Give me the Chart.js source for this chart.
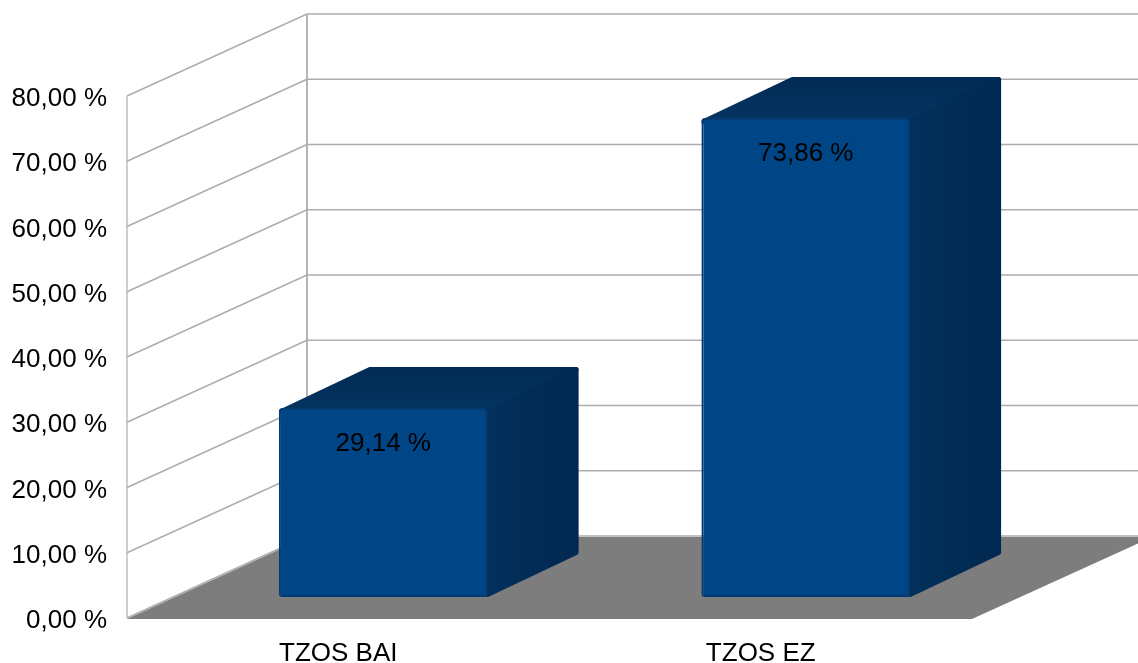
<!DOCTYPE html>
<html>
<head>
<meta charset="utf-8">
<title>TZOS</title>
<script src="https://cdn.jsdelivr.net/npm/chart.js@4"></script>
<style>
  html, body { margin: 0; padding: 0; background: #fff; overflow: hidden; }
  canvas { display: block; }
</style>
</head>
<body>
<canvas id="chartCanvas" width="1138" height="663"></canvas>
<script>
var categories = ["TZOS BAI", "TZOS EZ"];
var shareValues = [29.14, 73.86];
var valueLabels = ["29,14 %", "73,86 %"];
var yTickValues = [0, 10, 20, 30, 40, 50, 60, 70, 80];
var yTickLabels = ["0,00 %", "10,00 %", "20,00 %", "30,00 %", "40,00 %", "50,00 %", "60,00 %", "70,00 %", "80,00 %"];

var FONT = "'Liberation Sans', Arial, sans-serif";
var GRID = "#adadad";
// depth of the fake 3d box, in pixels
var WALL_DX = 180, WALL_DY = 82;
var BAR_SHIFT_X = 45, BAR_SHIFT_Y = 21;
var BAR_DX = 91, BAR_DY = 42;
var CORNER = 2.5;

function line(ctx, x1, y1, x2, y2, w) {
  ctx.beginPath();
  ctx.moveTo(x1, y1);
  ctx.lineTo(x2, y2);
  ctx.lineWidth = w;
  ctx.strokeStyle = GRID;
  ctx.stroke();
}

function face(ctx, pts, fill) {
  ctx.beginPath();
  ctx.moveTo(pts[0][0], pts[0][1]);
  for (var i = 1; i < pts.length; i++) ctx.lineTo(pts[i][0], pts[i][1]);
  ctx.closePath();
  ctx.lineJoin = "round";
  ctx.lineWidth = CORNER * 2;
  ctx.strokeStyle = fill;
  ctx.fillStyle = fill;
  ctx.stroke();
  ctx.fill();
}

var box3d = {
  id: "box3d",
  beforeDatasetsDraw: function (chart) {
    var ctx = chart.ctx, a = chart.chartArea, y = chart.scales.y;
    ctx.save();
    // walls and gridlines
    yTickValues.forEach(function (v) {
      var py = y.getPixelForValue(v);
      line(ctx, a.left, py, a.left + WALL_DX, py - WALL_DY, 1.5);
      line(ctx, a.left + WALL_DX, py - WALL_DY, a.right + WALL_DX, py - WALL_DY, 1.6);
    });
    line(ctx, a.left, a.top, a.left, a.bottom, 1.2);
    line(ctx, a.left + WALL_DX, a.top - WALL_DY, a.left + WALL_DX, a.bottom - WALL_DY, 1.8);
    // floor
    ctx.beginPath();
    ctx.moveTo(a.left, a.bottom + 1);
    ctx.lineTo(a.right, a.bottom + 1);
    ctx.lineTo(a.right + WALL_DX, a.bottom - WALL_DY + 1);
    ctx.lineTo(a.left + WALL_DX, a.bottom - WALL_DY + 1);
    ctx.closePath();
    ctx.fillStyle = "#7d7d7d";
    ctx.fill();
    // top and side of each bar
    chart.getDatasetMeta(0).data.forEach(function (bar) {
      var x0 = bar.x - bar.width / 2 + BAR_SHIFT_X;
      var x1 = bar.x + bar.width / 2 + BAR_SHIFT_X;
      var t = bar.y - BAR_SHIFT_Y + 1;
      var b = bar.base - BAR_SHIFT_Y;
      var r = CORNER;
      var topFill = ctx.createLinearGradient(0, t - BAR_DY, 0, t);
      topFill.addColorStop(0, "#012b54");
      topFill.addColorStop(1, "#03345f");
      face(ctx, [[x0 + r, t + r], [x0 + BAR_DX, t - BAR_DY + r], [x1 + BAR_DX - r, t - BAR_DY + r], [x1, t + r]], topFill);
      var sideFill = ctx.createLinearGradient(x1, 0, x1 + BAR_DX, 0);
      sideFill.addColorStop(0, "#02305c");
      sideFill.addColorStop(1, "#012850");
      face(ctx, [[x1, t + r], [x1 + BAR_DX - r, t - BAR_DY + r], [x1 + BAR_DX - r, b - BAR_DY - r], [x1, b - r]], sideFill);
    });
    ctx.restore();
  },
  // the bars themselves sit part way back on the floor
  beforeDatasetDraw: function (chart) {
    chart.ctx.save();
    chart.ctx.translate(BAR_SHIFT_X, -BAR_SHIFT_Y);
  },
  afterDatasetDraw: function (chart) {
    chart.ctx.restore();
  },
  afterDatasetsDraw: function (chart) {
    var ctx = chart.ctx;
    ctx.save();
    ctx.font = "26px " + FONT;
    ctx.fillStyle = "#000";
    ctx.textAlign = "center";
    ctx.textBaseline = "middle";
    chart.getDatasetMeta(0).data.forEach(function (bar, i) {
      ctx.fillText(valueLabels[i], bar.x + BAR_SHIFT_X, bar.y - BAR_SHIFT_Y + 36);
    });
    ctx.restore();
  }
};

new Chart(document.getElementById("chartCanvas"), {
  type: "bar",
  plugins: [box3d],
  data: {
    labels: categories,
    datasets: [{
      data: shareValues,
      yAxisID: "yBars",
      clip: false,
      backgroundColor: "#004586",
      borderColor: "#033a72",
      borderWidth: 2,
      borderSkipped: false,
      borderRadius: 3,
      categoryPercentage: 0.494,
      barPercentage: 1
    }]
  },
  options: {
    responsive: false,
    animation: false,
    layout: { padding: { top: 96, right: 166, left: 0, bottom: 0 } },
    plugins: { legend: { display: false }, tooltip: { enabled: false } },
    scales: {
      x: {
        grid: { display: false },
        border: { display: false },
        ticks: { color: "#000", font: { family: FONT, size: 26 }, padding: 12, maxRotation: 0 },
        afterFit: function (s) { s.height = 45; }
      },
      y: {
        min: 0,
        max: 80,
        grid: { display: false },
        border: { display: false },
        ticks: {
          stepSize: 10,
          color: "#000",
          font: { family: FONT, size: 26 },
          padding: 12,
          labelOffset: 3,
          callback: function (v, i) { return yTickLabels[i]; }
        },
        afterFit: function (s) { s.width = 127; }
      },
      // bars come out a touch shorter than the wall scale in the original 3d view
      yBars: { display: false, min: 0, max: 80.5 }
    }
  }
});
</script>
</body>
</html>
